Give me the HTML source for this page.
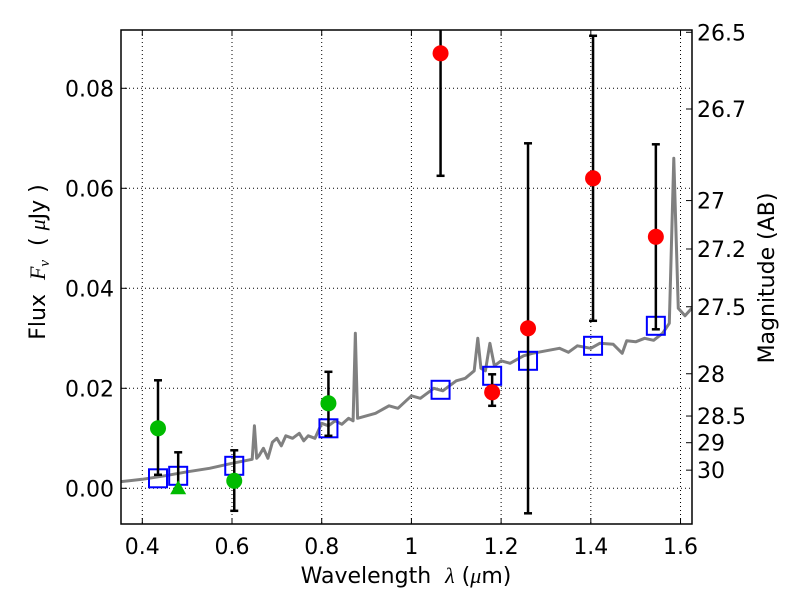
<!DOCTYPE html>
<html><head><meta charset="utf-8"><style>
html,body{margin:0;padding:0;background:#fff;}
svg{display:block;font-family:"DejaVu Sans","Liberation Sans",sans-serif;}
</style></head><body>
<svg id="chart" width="800" height="600" viewBox="0 0 800 600"></svg>
<script>
const xTicks=[0.4,0.6,0.8,1.0,1.2,1.4,1.6];
const xTickLabels=["0.4","0.6","0.8","1","1.2","1.4","1.6"];
const yTicks=[0,0.02,0.04,0.06,0.08];
const yTickLabels=["0.00","0.02","0.04","0.06","0.08"];
const magTicks=[26.5,26.7,27,27.2,27.5,28,28.5,29,30];
const magTickLabels=["26.5","26.7","27","27.2","27.5","28","28.5","29","30"];
const specX=[0.35,0.40,0.45,0.50,0.55,0.60,0.645,0.650,0.655,0.66,0.67,0.68,0.69,0.70,0.71,0.72,0.735,0.75,0.76,0.77,0.785,0.80,0.815,0.83,0.845,0.86,0.870,0.875,0.880,0.90,0.92,0.95,0.97,1.00,1.02,1.05,1.07,1.10,1.12,1.140,1.148,1.155,1.165,1.175,1.185,1.20,1.22,1.25,1.27,1.30,1.33,1.35,1.37,1.40,1.42,1.45,1.47,1.48,1.50,1.52,1.54,1.56,1.575,1.585,1.595,1.61,1.625];
const specY=[0.0013,0.0018,0.0025,0.0033,0.0040,0.0050,0.0058,0.0125,0.0060,0.0065,0.0080,0.0060,0.0092,0.0100,0.0085,0.0105,0.0100,0.0110,0.0095,0.0105,0.0100,0.0130,0.0125,0.0135,0.0128,0.0140,0.0135,0.0310,0.0140,0.0145,0.0150,0.0165,0.0160,0.0185,0.0180,0.0200,0.0195,0.0215,0.0220,0.0235,0.0300,0.0240,0.0235,0.0290,0.0245,0.0255,0.0250,0.0265,0.0270,0.0275,0.0280,0.0272,0.0285,0.0280,0.0290,0.0288,0.0270,0.0295,0.0293,0.0300,0.0296,0.0310,0.0330,0.0660,0.0360,0.0345,0.0360];
const greenX=[0.435,0.605,0.815];
const greenY=[0.012,0.0015,0.017];
const greenLo=[0.0027,-0.0045,0.0105];
const greenHi=[0.0216,0.0076,0.0233];
const triX=[0.48];
const triY=[0.0];
const triLo=[0.0];
const triHi=[0.0072];
const redX=[1.065,1.18,1.26,1.405,1.545];
const redY=[0.087,0.0192,0.032,0.062,0.0503];
const redLo=[0.0625,0.0165,-0.005,0.0335,0.0318];
const redHi=[0.115,0.0228,0.069,0.0905,0.0688];
const modelX=[0.435,0.48,0.605,0.815,1.065,1.18,1.26,1.405,1.545];
const modelY=[0.002,0.0025,0.0045,0.012,0.0197,0.0225,0.0255,0.0285,0.0325];

const L=121,R=692,T=30,B=524;
const xmin=0.3525,xmax=1.6256,ymin=-0.00714,ymax=0.09166;
const sx=v=>L+(v-xmin)/(xmax-xmin)*(R-L);
const sy=v=>B-(v-ymin)/(ymax-ymin)*(B-T);
const magToFlux=m=>Math.pow(10,-(m-23.9)/2.5);
const NS="http://www.w3.org/2000/svg";
const svg=document.getElementById('chart');
function mk(tag,attrs,parent){const e=document.createElementNS(NS,tag);for(const k in attrs)e.setAttribute(k,attrs[k]);(parent||svg).appendChild(e);return e;}

const defs=mk('defs',{});
const cp=mk('clipPath',{id:'clip'},defs);
mk('rect',{x:L,y:T,width:R-L,height:B-T},cp);

const grid=mk('g',{stroke:'#000','stroke-width':1,'stroke-dasharray':'1,3'});


xTicks.forEach(v=>mk('line',{x1:sx(v),x2:sx(v),y1:T,y2:B},grid));
yTicks.forEach(v=>mk('line',{x1:L,x2:R,y1:sy(v),y2:sy(v)},grid));

const plot=mk('g',{'clip-path':'url(#clip)'});
const spec=mk('polyline',{points:specX.map((x,i)=>sx(x)+','+sy(specY[i])).join(' '),fill:'none',stroke:'#808080','stroke-width':3,'stroke-linejoin':'round'},plot);



function errbars(xs,lo,hi,name){
  const g=mk('g',{stroke:'#000','stroke-width':2.5},plot);
  
  
  xs.forEach((x,i)=>{
    mk('line',{x1:sx(x),x2:sx(x),y1:sy(lo[i]),y2:sy(hi[i])},g);
    mk('line',{x1:sx(x)-4,x2:sx(x)+4,y1:sy(lo[i]),y2:sy(lo[i])},g);
    mk('line',{x1:sx(x)-4,x2:sx(x)+4,y1:sy(hi[i]),y2:sy(hi[i])},g);
  });
}
const mg=mk('g',{fill:'none',stroke:'#0000ff','stroke-width':2},plot);


modelX.forEach((x,i)=>{const r=mk('rect',{x:sx(x)-9,y:sy(modelY[i])-9,width:18,height:18},mg);

});

errbars(greenX,greenLo,greenHi,'green-errorbars');
errbars(triX,triLo,triHi,'triangle-errorbars');
errbars(redX,redLo,redHi,'red-errorbars');
greenX.forEach((x,i)=>{const c=mk('circle',{cx:sx(x),cy:sy(greenY[i]),r:8,fill:'#00bb00'},plot);

});
triX.forEach((x,i)=>{const X=sx(x),Y=sy(triY[i]);const p=mk('polygon',{points:`${X},${Y-8} ${X-8},${Y+6} ${X+8},${Y+6}`,fill:'#00bb00'},plot);

});
redX.forEach((x,i)=>{const c=mk('circle',{cx:sx(x),cy:sy(redY[i]),r:8,fill:'#ff0000'},plot);

});

const frame=mk('rect',{x:L,y:T,width:R-L,height:B-T,fill:'none',stroke:'#000','stroke-width':1.5});



const ax=mk('g',{'font-size':22,fill:'#000'});
xTicks.forEach((v,i)=>{
  mk('line',{x1:sx(v),x2:sx(v),y1:B,y2:B-6,stroke:'#000'},ax);
  mk('line',{x1:sx(v),x2:sx(v),y1:T,y2:T+6,stroke:'#000'},ax);
  const t=mk('text',{x:sx(v),y:B+30,'text-anchor':'middle'},ax);t.textContent=xTickLabels[i];
  
  
});
yTicks.forEach((v,i)=>{
  mk('line',{x1:L,x2:L+6,y1:sy(v),y2:sy(v),stroke:'#000'},ax);
  const t=mk('text',{x:L-7,y:sy(v)+8,'text-anchor':'end'},ax);t.textContent=yTickLabels[i];
  
  
});
magTicks.forEach((m,i)=>{
  const y=sy(magToFlux(m));
  mk('line',{x1:R-6,x2:R,y1:y,y2:y,stroke:'#000'},ax);
  const t=mk('text',{x:R+5,y:y+8,'text-anchor':'start'},ax);t.textContent=magTickLabels[i];
  
  
});
const xl=mk('text',{x:406,y:583,'text-anchor':'middle'},ax);
xl.innerHTML='Wavelength &#160;<tspan font-family="Liberation Serif,serif" font-style="italic">λ</tspan> (<tspan font-family="Liberation Serif,serif" font-style="italic">μ</tspan>m)';


const yl=mk('text',{x:0,y:0,'text-anchor':'middle',transform:'translate(45,262) rotate(-90)'},ax);
yl.innerHTML='Flux &#160;<tspan font-family="Liberation Serif,serif" font-style="italic">F<tspan font-size="15" dy="4">ν</tspan></tspan><tspan dy="-4"> &#160;( </tspan><tspan font-family="Liberation Serif,serif" font-style="italic">μ</tspan>Jy )';


const ml=mk('text',{x:0,y:0,'text-anchor':'middle',transform:'translate(774,278) rotate(-90)'},ax);
ml.textContent='Magnitude (AB)';


</script>
</body></html>
